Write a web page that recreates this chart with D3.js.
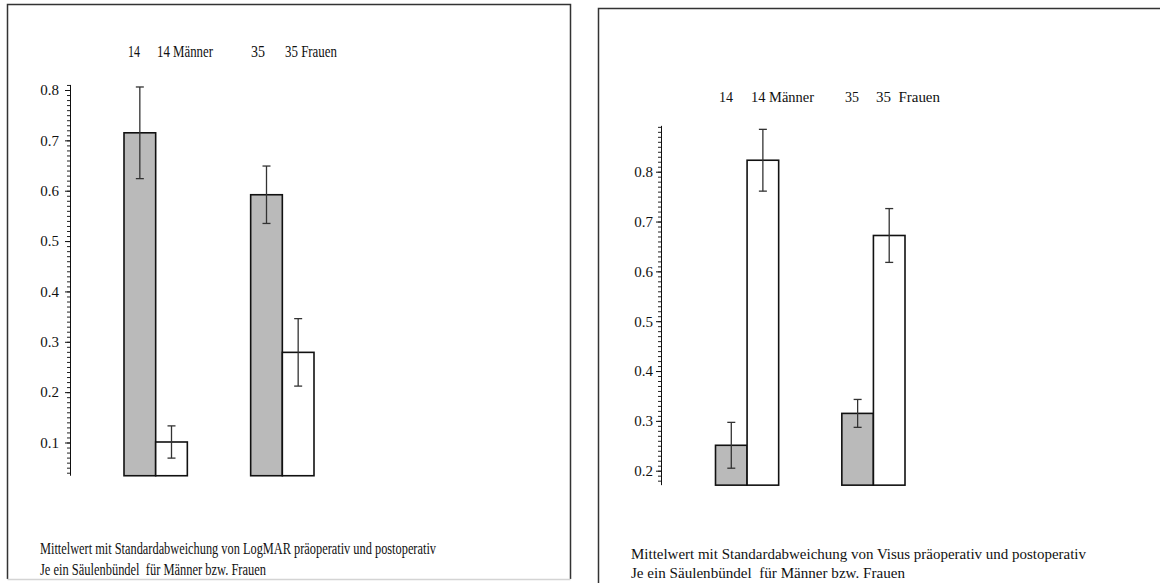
<!DOCTYPE html>
<html>
<head>
<meta charset="utf-8">
<script src="https://cdn.jsdelivr.net/npm/d3@7"></script>
<style>
  html, body { margin: 0; padding: 0; background: #fff; }
  svg { display: block; }
  text { font-family: "Liberation Serif", "Times New Roman", serif; fill: #111; white-space: pre; }
</style>
</head>
<body>
<div class="chart"></div>
<script>
// groups and series
const groups = ['Männer', 'Frauen'];
const phases = ['prä', 'post'];
const legendLabels = ['14', '14 Männer', '35', '35 Frauen'];
const legendLabelsVisus = ['14', '14 Männer', '35', '35  Frauen'];

// LogMAR means / standard deviations (Männer, Frauen)
const logmarPre = [0.715, 0.592];
const logmarPost = [0.101, 0.279];
const logmarPreSd = [0.091, 0.057];
const logmarPostSd = [0.032, 0.067];
const logmarTicks = [0.1, 0.2, 0.3, 0.4, 0.5, 0.6, 0.7, 0.8];

// Visus means / standard deviations (Männer, Frauen)
const visusPre = [0.251, 0.315];
const visusPost = [0.823, 0.672];
const visusPreSd = [0.046, 0.028];
const visusPostSd = [0.062, 0.054];
const visusTicks = [0.2, 0.3, 0.4, 0.5, 0.6, 0.7, 0.8];

const captionLogmar = [
  'Mittelwert mit Standardabweichung von LogMAR präoperativ und postoperativ',
  'Je ein Säulenbündel  für Männer bzw. Frauen'
];
const captionVisus = [
  'Mittelwert mit Standardabweichung von Visus präoperativ und postoperativ',
  'Je ein Säulenbündel  für Männer bzw. Frauen'
];

const svg = d3.select('.chart')
  .append('svg')
    .attr('width', 1160)
    .attr('height', 583);

// panel frames
svg.append('path')
  .attr('d', 'M7.5,579 L7.5,4.5 L570.5,4.5 L570.5,579')
  .attr('fill', 'none').attr('stroke', '#333').attr('stroke-width', 1.5);
svg.append('line')
  .attr('x1', 7.5).attr('x2', 570.5).attr('y1', 579.5).attr('y2', 579.5)
  .attr('stroke', '#d4d4d4').attr('stroke-width', 1.5);
svg.append('path')
  .attr('d', 'M598.5,590 L598.5,8.5 L1160,8.5')
  .attr('fill', 'none').attr('stroke', '#333').attr('stroke-width', 1.5);

function drawPanel(p) {
  const g = svg.append('g');

  const y = d3.scaleLinear()
    .domain([p.yLow, p.yHigh])
    .range([p.yLowPx, p.yHighPx]);

  const axisTop = y(p.axisMax);
  const axisBottom = y(p.axisMin);

  // minor ticks every 0.01
  const minor = d3.range(Math.ceil(p.axisMin * 100), Math.floor(p.axisMax * 100) + 1)
    .map(d => d / 100);

  const yAxisScale = y.copy().domain([p.axisMin, p.axisMax]).range([axisBottom, axisTop]);

  g.append('g')
    .attr('transform', `translate(${p.axisX}, 0)`)
    .call(d3.axisLeft(yAxisScale).tickValues(minor).tickSize(3).tickFormat(''))
    .call(a => a.select('.domain').remove())
    .call(a => a.selectAll('line').attr('x1', 1).attr('stroke', '#222'));

  const major = g.append('g')
    .attr('transform', `translate(${p.axisX}, 0)`)
    .call(d3.axisLeft(yAxisScale).tickValues(p.ticks).tickSize(5)
      .tickSizeOuter(0).tickPadding(p.tickPad).tickFormat(d3.format('.1f')));
  major.select('.domain').attr('d', `M0.5,${axisTop}V${axisBottom}`).attr('stroke', '#111');
  major.selectAll('line').attr('stroke', '#111');
  major.selectAll('text')
    .style('font-family', '"Liberation Serif", "Times New Roman", serif')
    .style('font-size', '15px')
    .attr('fill', '#111');

  // bars
  const x0 = d3.scaleBand().domain(groups).range(p.xRange).paddingInner(0.5).paddingOuter(0);
  const x1 = d3.scaleBand().domain(phases).range([0, x0.bandwidth()]);

  const rows = [];
  groups.forEach((grp, i) => {
    rows.push({ grp, phase: 'prä', v: p.pre[i], sd: p.preSd[i] });
    rows.push({ grp, phase: 'post', v: p.post[i], sd: p.postSd[i] });
  });

  g.selectAll('rect.bar')
    .data(rows)
    .enter()
    .append('rect')
      .attr('class', 'bar')
      .attr('x', d => x0(d.grp) + x1(d.phase))
      .attr('y', d => y(d.v))
      .attr('width', x1.bandwidth())
      .attr('height', d => axisBottom - y(d.v))
      .attr('fill', d => d.phase === 'prä' ? '#bababa' : '#fff')
      .attr('stroke', '#111')
      .attr('stroke-width', 1.6);

  const eb = g.selectAll('g.err')
    .data(rows)
    .enter()
    .append('g')
      .attr('class', 'err')
      .attr('transform', d => `translate(${x0(d.grp) + x1(d.phase) + x1.bandwidth() / 2}, 0)`)
      .attr('stroke', '#333')
      .attr('stroke-width', 1.3);
  eb.append('line').attr('y1', d => y(d.v + d.sd)).attr('y2', d => y(d.v - d.sd));
  eb.append('line').attr('x1', -4).attr('x2', 4).attr('y1', d => y(d.v + d.sd)).attr('y2', d => y(d.v + d.sd));
  eb.append('line').attr('x1', -4).attr('x2', 4).attr('y1', d => y(d.v - d.sd)).attr('y2', d => y(d.v - d.sd));

  // legend line at the top
  g.selectAll('text.legend')
    .data(p.legend)
    .enter()
    .append('text')
      .attr('class', 'legend')
      .attr('x', (d, i) => p.legendX[i])
      .attr('y', p.legendY)
      .attr('textLength', (d, i) => p.legendW[i])
      .attr('lengthAdjust', 'spacingAndGlyphs')
      .style('font-size', p.fontSize + 'px')
      .text(d => d);

  // caption lines
  g.selectAll('text.caption')
    .data(p.caption)
    .enter()
    .append('text')
      .attr('class', 'caption')
      .attr('x', p.captionX)
      .attr('y', (d, i) => p.captionY[i])
      .attr('textLength', (d, i) => p.captionW[i])
      .attr('lengthAdjust', 'spacingAndGlyphs')
      .style('font-size', p.fontSize + 'px')
      .text(d => d);
}

drawPanel({
  pre: logmarPre, post: logmarPost, preSd: logmarPreSd, postSd: logmarPostSd,
  ticks: logmarTicks,
  yLow: 0.1, yHigh: 0.8, yLowPx: 442.5, yHighPx: 90,
  axisMin: 0.034, axisMax: 0.81,
  axisX: 70, tickPad: 6,
  xRange: [124, 314],
  legend: legendLabels,
  legendX: [128, 157, 251, 285], legendW: [12, 56, 14, 52], legendY: 57,
  caption: captionLogmar,
  captionX: 40, captionY: [554, 575], captionW: [396, 226],
  fontSize: 16
});

drawPanel({
  pre: visusPre, post: visusPost, preSd: visusPreSd, postSd: visusPostSd,
  ticks: visusTicks,
  yLow: 0.2, yHigh: 0.8, yLowPx: 470.7, yHighPx: 171.7,
  axisMin: 0.171, axisMax: 0.892,
  axisX: 661, tickPad: 3,
  xRange: [715.5, 905],
  legend: legendLabelsVisus,
  legendX: [719, 751, 845, 876], legendW: [14, 63, 14, 64], legendY: 102,
  caption: captionVisus,
  captionX: 631, captionY: [559, 578], captionW: [455, 274],
  fontSize: 15
});
</script>
</body>
</html>
